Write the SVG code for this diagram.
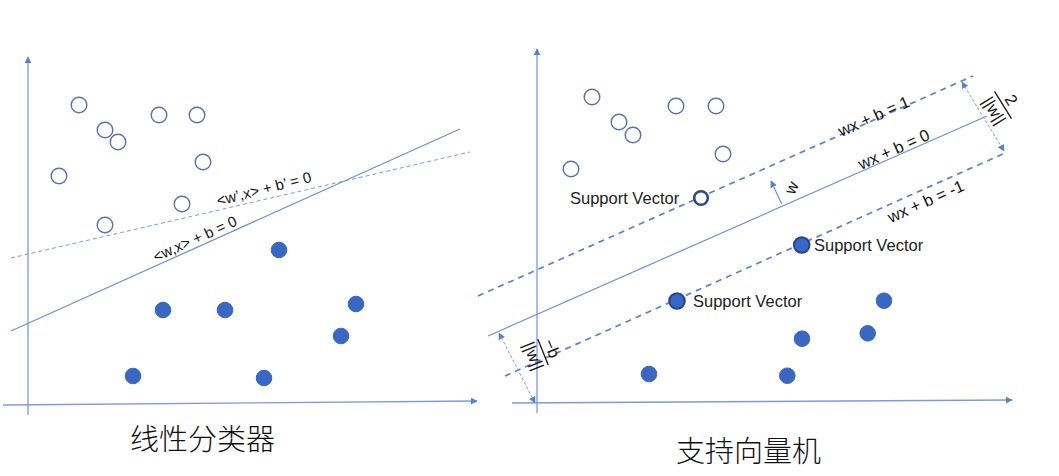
<svg xmlns="http://www.w3.org/2000/svg" width="1059" height="476" viewBox="0 0 1059 476">
<style>
.axis{stroke:#7c9bd6;stroke-width:1.3;fill:none}
.hyp{stroke:#6f90d2;stroke-width:1.2;fill:none}
.dash1{stroke:#7c9bd6;stroke-width:1;fill:none;stroke-dasharray:4 3}
.dash2{stroke:#5a82cc;stroke-width:1.7;fill:none;stroke-dasharray:6 5}
.dim{stroke:#7c9bd6;stroke-width:1;fill:none;stroke-dasharray:3 2}
.open{fill:#fff;stroke:#5873aa;stroke-width:1.4}
.fill{fill:#3b67c4;stroke:#3b67c4;stroke-width:1}
.svo{fill:#fff;stroke:#2a4a8c;stroke-width:2.6}
.svf{fill:#3b67c4;stroke:#26468a;stroke-width:2}
.lbl{font-family:"Liberation Sans",Arial,sans-serif;fill:#151515}
.sv{font-family:"Liberation Sans",Arial,sans-serif;font-size:16.5px;fill:#222}
.cn{font-family:"Liberation Sans","Noto Sans CJK SC",sans-serif;font-size:29px;font-weight:300;fill:#111}
</style>
<defs>
<marker id="arr" viewBox="0 0 10 10" refX="9" refY="5" markerWidth="7" markerHeight="7" markerUnits="userSpaceOnUse" orient="auto-start-reverse">
<path d="M0,0 L10,5 L0,10 z" fill="#5a82cc"/>
</marker>
</defs>

<g id="connectors">
<line class="axis" x1="28" y1="415" x2="28" y2="57" marker-end="url(#arr)"/>
<line class="axis" x1="3" y1="405" x2="477" y2="401" marker-end="url(#arr)"/>
<line class="hyp" x1="11" y1="331" x2="460" y2="129"/>
<line class="dash1" x1="11" y1="258" x2="470" y2="152"/>
<line class="axis" x1="537" y1="413" x2="537" y2="49" marker-end="url(#arr)"/>
<line class="axis" x1="512" y1="403" x2="1012" y2="400" marker-end="url(#arr)"/>
<line class="dash2" x1="478" y1="296" x2="973" y2="76"/>
<line class="hyp" x1="488" y1="336" x2="987" y2="116"/>
<line class="dash2" x1="505" y1="376" x2="1005" y2="153"/>
<line class="hyp" x1="781.7" y1="204" x2="771" y2="181" marker-end="url(#arr)"/>
<line class="dim" x1="962" y1="82" x2="1004" y2="151" marker-start="url(#arr)" marker-end="url(#arr)"/>
<line class="dim" x1="499" y1="333" x2="535" y2="403" marker-start="url(#arr)" marker-end="url(#arr)"/>
</g>

<g id="l-o1"><circle class="open" cx="79" cy="105" r="7.8"/></g>
<g id="l-o2"><circle class="open" cx="105" cy="130" r="7.8"/></g>
<g id="l-o3"><circle class="open" cx="118" cy="142" r="7.8"/></g>
<g id="l-o4"><circle class="open" cx="159" cy="115" r="7.8"/></g>
<g id="l-o5"><circle class="open" cx="197" cy="115" r="7.8"/></g>
<g id="l-o6"><circle class="open" cx="203" cy="162" r="7.8"/></g>
<g id="l-o7"><circle class="open" cx="59" cy="176" r="7.8"/></g>
<g id="l-o8"><circle class="open" cx="182" cy="204" r="7.8"/></g>
<g id="l-o9"><circle class="open" cx="105" cy="225" r="7.8"/></g>
<g id="l-f1"><circle class="fill" cx="279" cy="250" r="7.8"/></g>
<g id="l-f2"><circle class="fill" cx="163" cy="310" r="7.8"/></g>
<g id="l-f3"><circle class="fill" cx="225" cy="310" r="7.8"/></g>
<g id="l-f4"><circle class="fill" cx="356" cy="304" r="7.8"/></g>
<g id="l-f5"><circle class="fill" cx="341" cy="336" r="7.8"/></g>
<g id="l-f6"><circle class="fill" cx="133" cy="376" r="7.8"/></g>
<g id="l-f7"><circle class="fill" cx="264" cy="378" r="7.8"/></g>

<g id="l-labels">
<text class="lbl" font-size="15" text-anchor="middle" transform="translate(264,189) rotate(-14.5)" x="0" y="5">&lt;w’,x&gt; + b’ = 0</text>
<text class="lbl" font-size="15" text-anchor="middle" transform="translate(195,239) rotate(-24.5)" x="0" y="5">&lt;w,x&gt; + b = 0</text>
<text class="cn" x="130" y="450">线性分类器</text>
</g>

<g id="r-o1"><circle class="open" cx="592" cy="97" r="7.8"/></g>
<g id="r-o2"><circle class="open" cx="619" cy="122" r="7.8"/></g>
<g id="r-o3"><circle class="open" cx="633" cy="135" r="7.8"/></g>
<g id="r-o4"><circle class="open" cx="676" cy="106" r="7.8"/></g>
<g id="r-o5"><circle class="open" cx="716" cy="106" r="7.8"/></g>
<g id="r-o6"><circle class="open" cx="723" cy="154" r="7.8"/></g>
<g id="r-o7"><circle class="open" cx="571" cy="169" r="7.8"/></g>
<g id="r-sv1"><circle class="svo" cx="701" cy="198" r="6.8"/><text class="sv" x="570" y="204">Support Vector</text></g>
<g id="r-sv2"><circle class="svf" cx="801.7" cy="245" r="7.8"/><text class="sv" x="814" y="251">Support Vector</text></g>
<g id="r-sv3"><circle class="svf" cx="677" cy="301" r="7.8"/><text class="sv" x="693" y="307">Support Vector</text></g>
<g id="r-f1"><circle class="fill" cx="649" cy="374" r="7.8"/></g>
<g id="r-f2"><circle class="fill" cx="884" cy="300.7" r="7.8"/></g>
<g id="r-f3"><circle class="fill" cx="802" cy="338.7" r="7.8"/></g>
<g id="r-f4"><circle class="fill" cx="867.7" cy="333.3" r="7.8"/></g>
<g id="r-f5"><circle class="fill" cx="787.3" cy="375.7" r="7.8"/></g>

<g id="r-labels">
<text class="lbl" font-size="16.5" text-anchor="middle" transform="translate(874,117) rotate(-24)" x="0" y="5">wx + b = 1</text>
<text class="lbl" font-size="16.5" text-anchor="middle" transform="translate(894,150) rotate(-24)" x="0" y="5">wx + b = 0</text>
<text class="lbl" font-size="16.5" text-anchor="middle" transform="translate(926,202) rotate(-24)" x="0" y="5">wx + b = -1</text>
<text class="lbl" font-size="16.5" text-anchor="middle" transform="translate(792,188) rotate(-66)" x="0" y="5">w</text>
<g transform="translate(1003,105) rotate(58)">
<text class="lbl" font-size="16.5" text-anchor="middle" x="0" y="-4">2</text>
<line x1="-16" y1="0" x2="16" y2="0" stroke="#151515" stroke-width="1.3"/>
<text class="lbl" font-size="16.5" text-anchor="middle" x="0" y="16">||w||</text>
</g>
<g transform="translate(543,352) rotate(68)">
<text class="lbl" font-size="16.5" text-anchor="middle" x="0" y="-4">−b</text>
<line x1="-14" y1="0" x2="14" y2="0" stroke="#151515" stroke-width="1.3"/>
<text class="lbl" font-size="16.5" text-anchor="middle" x="0" y="16">||w||</text>
</g>
<text class="cn" x="676" y="462">支持向量机</text>
</g>
</svg>
